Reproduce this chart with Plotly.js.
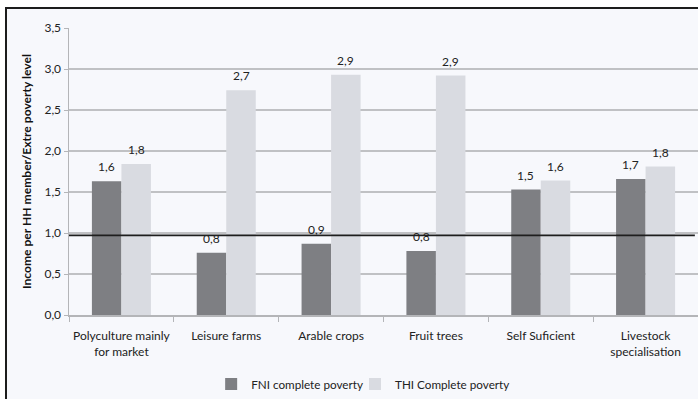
<!DOCTYPE html>
<html>
<head>
<meta charset="utf-8">
<script src="https://cdn.plot.ly/plotly-3.0.1.min.js"></script>
<style>
  html, body { margin: 0; padding: 0; background: #ffffff; width: 698px; height: 399px; overflow: hidden; }
  #frame {
    position: absolute; left: 5px; top: 7px; width: 693px; height: 392px;
    box-sizing: border-box; border-left: 2px solid #1c1c1c; border-top: 2px solid #1c1c1c;
    background: #f7f8fc;
  }
  #chart { position: absolute; left: 0; top: 0; width: 691px; height: 390px; }
</style>
</head>
<body>
<div id="frame"><div id="chart"></div></div>
<script>
// Farm types
const categories = [
  'Polyculture mainly<br>for market',
  'Leisure farms',
  'Arable crops',
  'Fruit trees',
  'Self Suficient',
  'Livestock<br>specialisation'
];

// Income per household member relative to the extreme poverty level
const fniValues = [1.63, 0.76, 0.87, 0.78, 1.53, 1.66];
const thiValues = [1.84, 2.74, 2.93, 2.92, 1.64, 1.81];

const seriesNames = ['FNI complete poverty', 'THI Complete poverty'];
const yTickVals = [0, 0.5, 1, 1.5, 2, 2.5, 3, 3.5];

// Extreme poverty reference level
const povertyLevel = 0.972;

const FONT = 'Lato, "Open Sans", sans-serif';
const darkGrey = '#7e7f83';
const lightGrey = '#d9dbe1';
const gridGrey = '#c0c1c4';

const width = 691, height = 390;
const margin = { l: 62, r: 0, t: 19, b: 81 };
const bargap = 0.437;

// half a bar width in pixels, used to centre the value labels over each bar
const plotWidth = width - margin.l - margin.r;
const halfBar = plotWidth / categories.length * (1 - bargap) / 4;

const fmt = v => v.toFixed(1).replace('.', ',');

const traces = [
  { type: 'bar', name: seriesNames[0], x: categories, y: fniValues,
    marker: { color: darkGrey }, hoverinfo: 'skip', legend: 'legend' },
  { type: 'bar', name: seriesNames[1], x: categories, y: thiValues,
    marker: { color: lightGrey }, hoverinfo: 'skip', legend: 'legend2' }
];

const annotations = [];
[fniValues, thiValues].forEach((vals, s) => {
  vals.forEach((v, i) => {
    annotations.push({
      x: categories[i], y: v, xref: 'x', yref: 'y',
      text: fmt(v), showarrow: false,
      xshift: s === 0 ? -halfBar : halfBar, yshift: 5,
      yanchor: 'bottom', xanchor: 'center',
      font: { family: FONT, size: 12, color: '#222' }
    });
  });
});

// one legend box per series so each entry sits where it belongs under the axis
const legendBase = {
  orientation: 'h', xanchor: 'left', y: -0.19, yanchor: 'top',
  font: { family: FONT, size: 11.7, color: '#222' },
  itemwidth: 30, bgcolor: 'rgba(0,0,0,0)'
};

const layout = {
  width, height, margin,
  paper_bgcolor: 'rgba(0,0,0,0)',
  plot_bgcolor: 'rgba(0,0,0,0)',
  separators: ', ',
  barmode: 'group',
  bargap, bargroupgap: 0,
  showlegend: true,
  legend: Object.assign({}, legendBase, { x: 0.226 }),
  legend2: Object.assign({}, legendBase, { x: 0.4547 }),
  xaxis: {
    type: 'category',
    showgrid: false,
    showline: true, linecolor: '#b4b5b8', linewidth: 1.5,
    ticks: 'outside', tickson: 'boundaries', ticklen: 5, tickcolor: '#b4b5b8', tickwidth: 1,
    tickangle: 0, automargin: false, ticklabelstandoff: 9,
    tickfont: { family: FONT, size: 12, color: '#222' },
    fixedrange: true
  },
  yaxis: {
    range: [0, 3.5],
    tickvals: yTickVals, tickformat: '.1f',
    showgrid: true, gridcolor: gridGrey, gridwidth: 1.5,
    zeroline: false, automargin: false,
    showline: true, linecolor: '#b4b5b8', linewidth: 1.5,
    ticks: 'outside', ticklen: 4, tickcolor: '#b4b5b8',
    tickfont: { family: FONT, size: 12, color: '#222' },
    title: {
      text: '<b>Income per HH member/Extre poverty level</b>',
      font: { family: FONT, size: 12.1, color: '#111' },
      standoff: 10
    },
    fixedrange: true
  },
  shapes: [{
    type: 'line', xref: 'paper', yref: 'y',
    x0: 0, x1: 0.995, y0: povertyLevel, y1: povertyLevel,
    line: { color: '#1e1e1e', width: 1.8 }, layer: 'above'
  }],
  annotations
};

Plotly.newPlot('chart', traces, layout, { displayModeBar: false, staticPlot: true });
</script>
</body>
</html>
